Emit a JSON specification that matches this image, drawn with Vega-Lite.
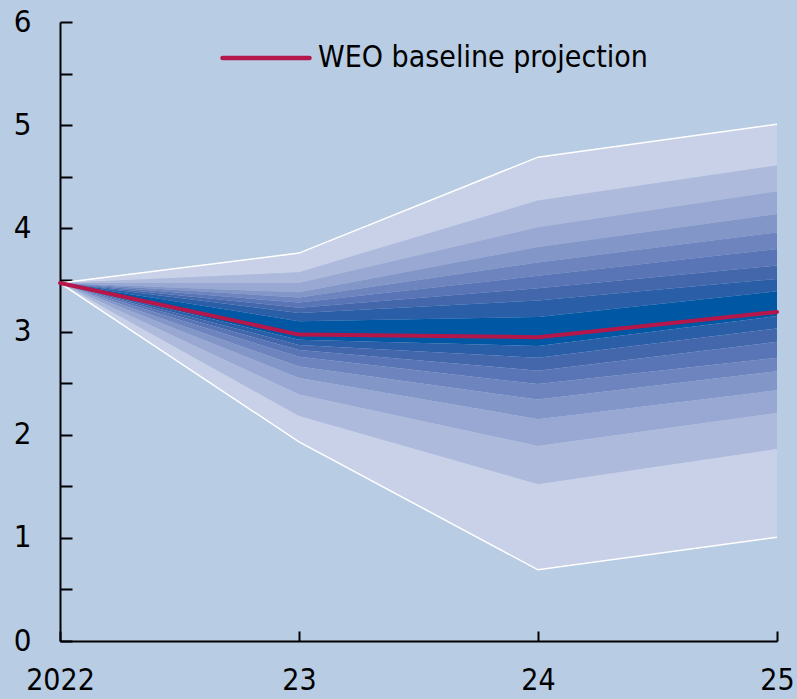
{
  "$schema": "https://vega.github.io/schema/vega-lite/v6.json",
  "width": 717,
  "height": 619,
  "autosize": {"type": "none"},
  "padding": {"left": 60, "top": 22, "right": 20, "bottom": 58},
  "background": "#b8cce4",
  "config": {"view": {"stroke": null}, "font": "Liberation Sans Narrow, DejaVu Sans Condensed, Liberation Sans, sans-serif"},
  "datasets": {
    "strips": [
      {"year": 2022, "strip": 1, "shade": 1, "hi": 3.47, "lo": 3.47},
      {"year": 2022, "strip": 2, "shade": 2, "hi": 3.47, "lo": 3.47},
      {"year": 2022, "strip": 3, "shade": 3, "hi": 3.47, "lo": 3.47},
      {"year": 2022, "strip": 4, "shade": 4, "hi": 3.47, "lo": 3.47},
      {"year": 2022, "strip": 5, "shade": 5, "hi": 3.47, "lo": 3.47},
      {"year": 2022, "strip": 6, "shade": 6, "hi": 3.47, "lo": 3.47},
      {"year": 2022, "strip": 7, "shade": 7, "hi": 3.47, "lo": 3.47},
      {"year": 2022, "strip": 8, "shade": 8, "hi": 3.47, "lo": 3.47},
      {"year": 2022, "strip": 9, "shade": 9, "hi": 3.47, "lo": 3.47},
      {"year": 2022, "strip": 10, "shade": 8, "hi": 3.47, "lo": 3.47},
      {"year": 2022, "strip": 11, "shade": 7, "hi": 3.47, "lo": 3.47},
      {"year": 2022, "strip": 12, "shade": 6, "hi": 3.47, "lo": 3.47},
      {"year": 2022, "strip": 13, "shade": 5, "hi": 3.47, "lo": 3.47},
      {"year": 2022, "strip": 14, "shade": 4, "hi": 3.47, "lo": 3.47},
      {"year": 2022, "strip": 15, "shade": 3, "hi": 3.47, "lo": 3.47},
      {"year": 2022, "strip": 16, "shade": 2, "hi": 3.47, "lo": 3.47},
      {"year": 2022, "strip": 17, "shade": 1, "hi": 3.47, "lo": 3.47},

      {"year": 2023, "strip": 1, "shade": 1, "hi": 3.76, "lo": 3.575},
      {"year": 2023, "strip": 2, "shade": 2, "hi": 3.575, "lo": 3.47},
      {"year": 2023, "strip": 3, "shade": 3, "hi": 3.47, "lo": 3.38},
      {"year": 2023, "strip": 4, "shade": 4, "hi": 3.38, "lo": 3.33},
      {"year": 2023, "strip": 5, "shade": 5, "hi": 3.33, "lo": 3.28},
      {"year": 2023, "strip": 6, "shade": 6, "hi": 3.28, "lo": 3.23},
      {"year": 2023, "strip": 7, "shade": 7, "hi": 3.23, "lo": 3.18},
      {"year": 2023, "strip": 8, "shade": 8, "hi": 3.18, "lo": 3.10},
      {"year": 2023, "strip": 9, "shade": 9, "hi": 3.10, "lo": 2.92},
      {"year": 2023, "strip": 10, "shade": 8, "hi": 2.92, "lo": 2.87},
      {"year": 2023, "strip": 11, "shade": 7, "hi": 2.87, "lo": 2.82},
      {"year": 2023, "strip": 12, "shade": 6, "hi": 2.82, "lo": 2.755},
      {"year": 2023, "strip": 13, "shade": 5, "hi": 2.755, "lo": 2.66},
      {"year": 2023, "strip": 14, "shade": 4, "hi": 2.66, "lo": 2.55},
      {"year": 2023, "strip": 15, "shade": 3, "hi": 2.55, "lo": 2.39},
      {"year": 2023, "strip": 16, "shade": 2, "hi": 2.39, "lo": 2.18},
      {"year": 2023, "strip": 17, "shade": 1, "hi": 2.18, "lo": 1.93},

      {"year": 2024, "strip": 1, "shade": 1, "hi": 4.69, "lo": 4.27},
      {"year": 2024, "strip": 2, "shade": 2, "hi": 4.27, "lo": 4.01},
      {"year": 2024, "strip": 3, "shade": 3, "hi": 4.01, "lo": 3.82},
      {"year": 2024, "strip": 4, "shade": 4, "hi": 3.82, "lo": 3.67},
      {"year": 2024, "strip": 5, "shade": 5, "hi": 3.67, "lo": 3.54},
      {"year": 2024, "strip": 6, "shade": 6, "hi": 3.54, "lo": 3.42},
      {"year": 2024, "strip": 7, "shade": 7, "hi": 3.42, "lo": 3.30},
      {"year": 2024, "strip": 8, "shade": 8, "hi": 3.30, "lo": 3.14},
      {"year": 2024, "strip": 9, "shade": 9, "hi": 3.14, "lo": 2.86},
      {"year": 2024, "strip": 10, "shade": 8, "hi": 2.86, "lo": 2.745},
      {"year": 2024, "strip": 11, "shade": 7, "hi": 2.745, "lo": 2.62},
      {"year": 2024, "strip": 12, "shade": 6, "hi": 2.62, "lo": 2.49},
      {"year": 2024, "strip": 13, "shade": 5, "hi": 2.49, "lo": 2.34},
      {"year": 2024, "strip": 14, "shade": 4, "hi": 2.34, "lo": 2.15},
      {"year": 2024, "strip": 15, "shade": 3, "hi": 2.15, "lo": 1.89},
      {"year": 2024, "strip": 16, "shade": 2, "hi": 1.89, "lo": 1.52},
      {"year": 2024, "strip": 17, "shade": 1, "hi": 1.52, "lo": 0.69},

      {"year": 2025, "strip": 1, "shade": 1, "hi": 5.01, "lo": 4.61},
      {"year": 2025, "strip": 2, "shade": 2, "hi": 4.61, "lo": 4.36},
      {"year": 2025, "strip": 3, "shade": 3, "hi": 4.36, "lo": 4.14},
      {"year": 2025, "strip": 4, "shade": 4, "hi": 4.14, "lo": 3.96},
      {"year": 2025, "strip": 5, "shade": 5, "hi": 3.96, "lo": 3.80},
      {"year": 2025, "strip": 6, "shade": 6, "hi": 3.80, "lo": 3.64},
      {"year": 2025, "strip": 7, "shade": 7, "hi": 3.64, "lo": 3.51},
      {"year": 2025, "strip": 8, "shade": 8, "hi": 3.51, "lo": 3.39},
      {"year": 2025, "strip": 9, "shade": 9, "hi": 3.39, "lo": 3.15},
      {"year": 2025, "strip": 10, "shade": 8, "hi": 3.15, "lo": 3.03},
      {"year": 2025, "strip": 11, "shade": 7, "hi": 3.03, "lo": 2.90},
      {"year": 2025, "strip": 12, "shade": 6, "hi": 2.90, "lo": 2.745},
      {"year": 2025, "strip": 13, "shade": 5, "hi": 2.745, "lo": 2.615},
      {"year": 2025, "strip": 14, "shade": 4, "hi": 2.615, "lo": 2.43},
      {"year": 2025, "strip": 15, "shade": 3, "hi": 2.43, "lo": 2.21},
      {"year": 2025, "strip": 16, "shade": 2, "hi": 2.21, "lo": 1.86},
      {"year": 2025, "strip": 17, "shade": 1, "hi": 1.86, "lo": 1.005}
    ],
    "edges": [
      {"year": 2022, "up": 3.47, "dn": 3.47},
      {"year": 2023, "up": 3.76, "dn": 1.93},
      {"year": 2024, "up": 4.69, "dn": 0.69},
      {"year": 2025, "up": 5.01, "dn": 1.005}
    ],
    "median": [
      {"year": 2022, "value": 3.47},
      {"year": 2023, "value": 2.97},
      {"year": 2024, "value": 2.945},
      {"year": 2025, "value": 3.19}
    ]
  },
  "layer": [
    {
      "data": {"name": "strips"},
      "mark": {"type": "area", "opacity": 1, "interpolate": "linear"},
      "encoding": {
        "x": {
          "field": "year",
          "type": "quantitative",
          "scale": {"domain": [2022, 2025], "nice": false, "zero": false},
          "axis": {
            "values": [2022, 2023, 2024, 2025],
            "labelExpr": "datum.value == 2022 ? '2022' : substring(toString(datum.value), 2, 4)",
            "title": null,
            "grid": false,
            "domainColor": "black",
            "domainWidth": 2,
            "tickColor": "black",
            "tickWidth": 2,
            "tickSize": -10,
            "labelPadding": 34,
            "labelFontSize": 30,
            "labelFont": "Liberation Sans Narrow, DejaVu Sans Condensed, Liberation Sans, sans-serif",
            "labelColor": "black",
            "labelFlush": false,
            "labelOverlap": false
          }
        },
        "y": {
          "field": "hi",
          "type": "quantitative",
          "scale": {"domain": [0, 6], "nice": false, "zero": true},
          "axis": {
            "values": [0, 0.5, 1, 1.5, 2, 2.5, 3, 3.5, 4, 4.5, 5, 5.5, 6],
            "labelExpr": "datum.value % 1 == 0 ? toString(datum.value) : ''",
            "title": null,
            "grid": false,
            "domainColor": "black",
            "domainWidth": 2,
            "tickColor": "black",
            "tickWidth": 2,
            "tickSize": -12,
            "labelPadding": 41,
            "labelFontSize": 31,
            "labelFont": "Liberation Sans Narrow, DejaVu Sans Condensed, Liberation Sans, sans-serif",
            "labelColor": "black",
            "labelFlush": false,
            "labelOverlap": false
          }
        },
        "y2": {"field": "lo"},
        "detail": {"field": "strip", "type": "nominal"},
        "fill": {
          "field": "shade",
          "type": "ordinal",
          "scale": {
            "domain": [1, 2, 3, 4, 5, 6, 7, 8, 9],
            "range": ["#c9d1e8", "#aebadb", "#98a8d2", "#8396c8", "#6d84be", "#5a75b5", "#4467ac", "#2a5fa8", "#0057a3"]
          },
          "legend": null
        }
      }
    },
    {
      "data": {"name": "edges"},
      "mark": {"type": "line", "color": "white", "strokeWidth": 1.5},
      "encoding": {
        "x": {"field": "year", "type": "quantitative"},
        "y": {"field": "up", "type": "quantitative"}
      }
    },
    {
      "data": {"name": "edges"},
      "mark": {"type": "line", "color": "white", "strokeWidth": 1.5},
      "encoding": {
        "x": {"field": "year", "type": "quantitative"},
        "y": {"field": "dn", "type": "quantitative"}
      }
    },
    {
      "data": {"name": "median"},
      "mark": {"type": "line", "strokeWidth": 4, "strokeCap": "round", "strokeJoin": "round"},
      "encoding": {
        "x": {"field": "year", "type": "quantitative"},
        "y": {"field": "value", "type": "quantitative"},
        "stroke": {
          "datum": "WEO baseline projection",
          "type": "nominal",
          "scale": {"range": ["#b5174b"]},
          "legend": {
            "orient": "none",
            "legendX": 160,
            "legendY": -10,
            "title": null,
            "padding": 0,
            "symbolType": "stroke",
            "symbolSize": 7569,
            "symbolStrokeWidth": 4.5,
            "labelFontSize": 30,
            "labelFont": "Liberation Sans Narrow, DejaVu Sans Condensed, Liberation Sans, sans-serif",
            "labelColor": "black",
            "labelOffset": 6,
            "labelLimit": 0,
            "encode": {"symbols": {"update": {"strokeCap": {"value": "round"}}}}
          }
        }
      }
    }
  ]
}
